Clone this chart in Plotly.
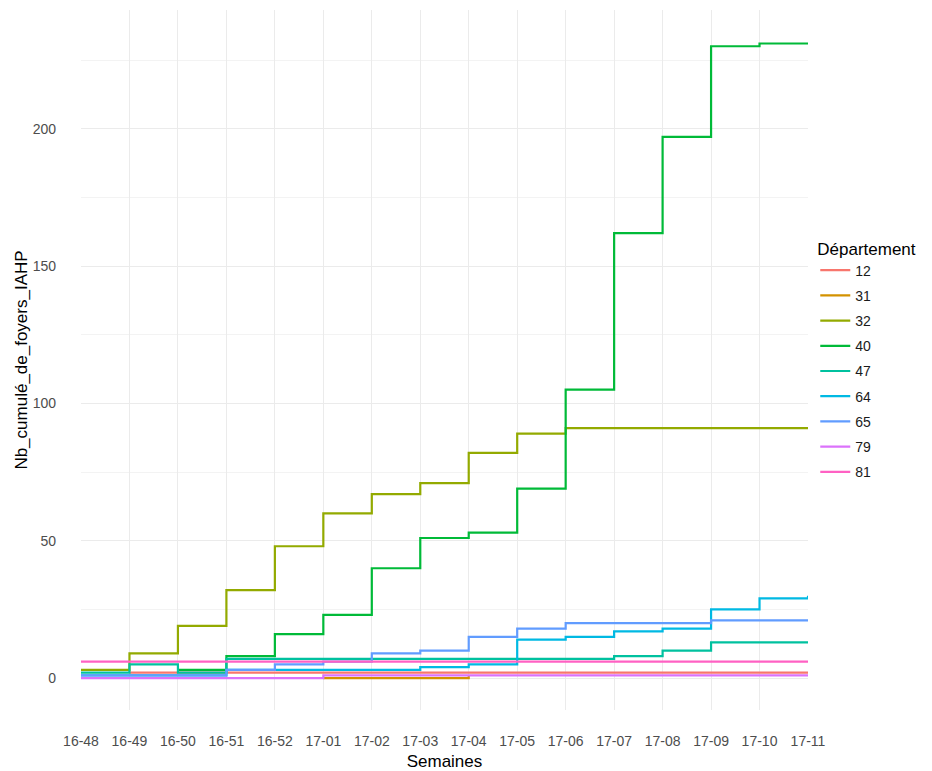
import plotly.graph_objects as go

weeks = ["16-48", "16-49", "16-50", "16-51", "16-52", "17-01", "17-02", "17-03",
         "17-04", "17-05", "17-06", "17-07", "17-08", "17-09", "17-10", "17-11"]

departements = ["12", "31", "32", "40", "47", "64", "65", "79", "81"]

v12 = [None, 2, 2, 2, 2, 2, 2, 2, 2, 2, 2, 2, 2, 2, 2, 2]
v31 = [None, None, None, None, None, 0, 0, 0, 1, None, None, None, None, None, None, None]
v32 = [3, 9, 19, 32, 48, 60, 67, 71, 82, 89, 91, 91, 91, 91, 91, 91]
v40 = [None, None, 3, 8, 16, 23, 40, 51, 53, 69, 105, 162, 197, 230, 231, 231]
v47 = [2, 5, 2, 7, 7, 7, 7, 7, 7, 7, 7, 8, 10, 13, 13, 13]
v64 = [1, 1, 1, 3, 3, 3, 3, 4, 5, 14, 15, 17, 18, 25, 29, 30]
v65 = [1, 1, 1, 3, 5, 6, 9, 10, 15, 18, 20, 20, 20, 21, 21, 21]
v79 = [0, 0, 0, 0, 0, 1, 1, 1, 1, 1, 1, 1, 1, 1, 1, 1]
v81 = [6, 6, 6, 6, 6, 6, 6, 6, 6, 6, 6, 6, 6, 6, 6, 6]

series = [v12, v31, v32, v40, v47, v64, v65, v79, v81]
colors = ["#F8766D", "#D39200", "#93AA00", "#00BA38", "#00C19F",
          "#00B9E3", "#619CFF", "#DB72FB", "#FF61C3"]

FONT = "Liberation Sans, Arial, sans-serif"

fig = go.Figure()
for name, vals, col in zip(departements, series, colors):
    fig.add_trace(go.Scatter(
        x=weeks, y=vals, name=name, mode="lines",
        line=dict(color=col, width=2.2, shape="hv"),
        connectgaps=False, legendgroup=name,
    ))

fig.update_layout(
    width=916, height=763,
    margin=dict(l=73, r=116, t=2, b=61, autoexpand=False),
    paper_bgcolor="white", plot_bgcolor="white",
    font=dict(family=FONT, color="#000000"),
    legend=dict(
        title=dict(text="Département", font=dict(size=17, color="#000000")),
        font=dict(size=14, color="#1a1a1a"),
        x=1.01, xanchor="left", y=0.5, yanchor="middle",
        tracegroupgap=4, traceorder="grouped",
        bgcolor="rgba(0,0,0,0)",
    ),
    xaxis=dict(
        type="category", range=[0, 15], automargin=False,
        showgrid=True, gridcolor="#EBEBEB", gridwidth=1,
        zeroline=False, showline=False, ticks="",
        tickfont=dict(size=14, color="#4D4D4D"),
        ticklabelstandoff=21,
        title=dict(text="Semaines", font=dict(size=17, color="#000000"), standoff=12),
    ),
    yaxis=dict(
        range=[-11.6, 243.2], automargin=False,
        tickvals=[0, 50, 100, 150, 200],
        showgrid=True, gridcolor="#EBEBEB", gridwidth=1,
        minor=dict(tickvals=[25, 75, 125, 175, 225], showgrid=True,
                   gridcolor="#F3F3F3", gridwidth=1),
        zeroline=False, showline=False, ticks="",
        tickfont=dict(size=14, color="#4D4D4D"),
        ticklabelstandoff=24,
        title=dict(text="Nb_cumulé_de_foyers_IAHP", font=dict(size=17, color="#000000"), standoff=0),
    ),
)

fig.write_html("out.html")
